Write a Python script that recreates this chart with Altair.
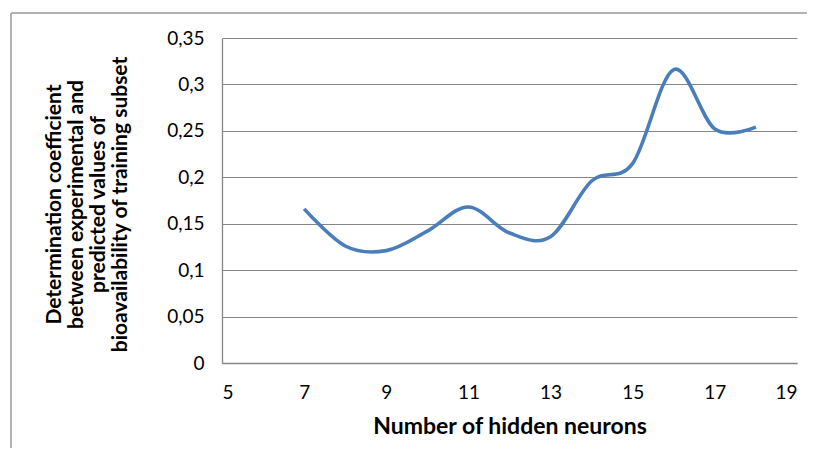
import altair as alt
import pandas as pd

neurons = [7, 8, 9, 10, 11, 12, 13, 14, 15, 16, 17, 18]
r2 = [0.166, 0.126, 0.121, 0.142, 0.168, 0.140, 0.136, 0.196, 0.215, 0.316, 0.252, 0.254]
x_ticks = [5, 7, 9, 11, 13, 15, 17, 19]
y_ticks = [0, 0.05, 0.1, 0.15, 0.2, 0.25, 0.3, 0.35]

df = pd.DataFrame({"n": neurons, "r2": r2})

FONT = "Lato"

line = alt.Chart(df).mark_line(
    interpolate="cardinal", color="#4a7ebb", strokeWidth=3.6
).encode(
    x=alt.X("n:Q", scale=alt.Scale(domain=[5, 19], nice=False),
            axis=alt.Axis(values=x_ticks, grid=False, ticks=False,
                          title="Number of hidden neurons",
                          labelPadding=20, titlePadding=13)),
    y=alt.Y("r2:Q", scale=alt.Scale(domain=[0, 0.35], nice=False),
            axis=alt.Axis(values=y_ticks, grid=True, ticks=False,
                          labelExpr="replace(format(datum.value, '~g'), '.', ',')",
                          labelPadding=18, titlePadding=36, titleY=166,
                          title=["Determination coefficient",
                                 "between experimental and",
                                 "predicted values of",
                                 "bioavailability of training subset"])),
)

one = pd.DataFrame({"a": [0]})
border_left = alt.Chart(one).mark_rule(color="#9a9a9a", strokeWidth=1.5).encode(
    x=alt.value(-211), y=alt.value(-25), y2=alt.value(420))
border_top = alt.Chart(one).mark_rule(color="#9a9a9a", strokeWidth=1.5).encode(
    x=alt.value(-211), x2=alt.value(590), y=alt.value(-25))

chart = alt.layer(line, border_left, border_top).properties(
    width=575, height=325,
    autosize=alt.AutoSizeParams(type="none"),
    padding={"left": 214, "top": 30, "right": 10, "bottom": 85},
).configure_view(stroke=None).configure_axis(
    labelFont=FONT, titleFont=FONT, labelFontSize=19, titleFontSize=21,
    labelColor="#000000", titleColor="#000000", titleFontWeight="bold",
    domainColor="#868686", gridColor="#868686", domainWidth=1.3, gridWidth=1,
    titleLineHeight=22,
).configure_axisX(titleFontSize=23)

chart.save("out.html", embed_options={"renderer": "svg", "actions": False})
